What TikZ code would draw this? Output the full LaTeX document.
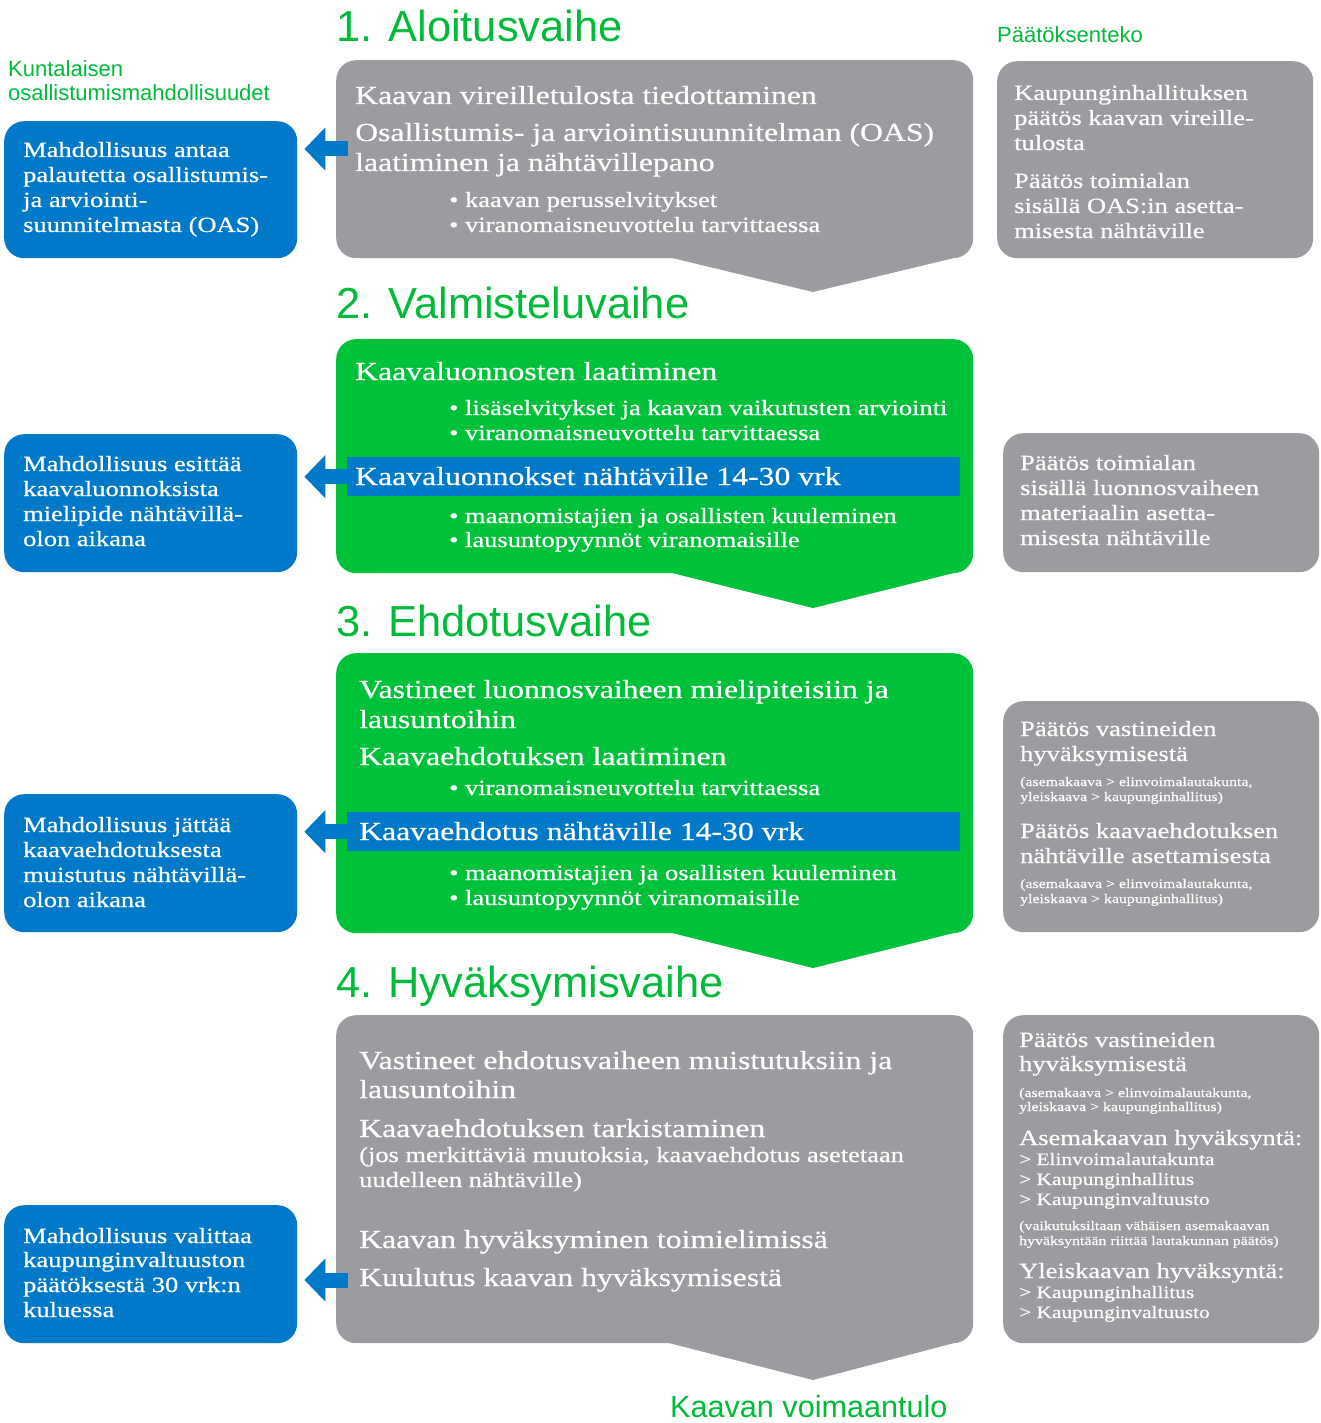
\documentclass[tikz,border=0pt]{standalone}
\usepackage{fontspec}
\setmainfont{Liberation Serif}[FakeStretch=1.22,FakeBold=0.6]
\newfontfamily\headfont{Liberation Sans}
\usetikzlibrary{arrows.meta,calc}
\definecolor{greyb}{RGB}{155,156,160}
\definecolor{greenb}{RGB}{0,193,58}
\definecolor{blueb}{RGB}{0,121,200}
\definecolor{tgreen}{RGB}{0,187,57}
\tikzset{
  lbl/.style={anchor=base west, inner sep=0pt, text=white},
  big/.style={lbl, font=\fontsize{26}{30}\selectfont},
  mid/.style={lbl, font=\fontsize{21.7}{25}\selectfont},
  sm/.style={lbl, font=\fontsize{17.5}{20}\selectfont},
  xs/.style={lbl, font=\fontsize{13}{15}\selectfont},
  title/.style={anchor=base west, inner sep=0pt, text=tgreen, font=\headfont\fontsize{43.4}{50}\selectfont},
  sub/.style={anchor=base west, inner sep=0pt, text=tgreen, font=\headfont\fontsize{22}{26}\selectfont},
  boxbase/.style={rectangle, rounded corners=20pt, inner sep=0pt, draw=none, anchor=north west},
  gbox/.style={boxbase, fill=greyb},
  grbox/.style={boxbase, fill=greenb},
  bbox/.style={boxbase, fill=blueb},
  band/.style={rectangle, inner sep=0pt, draw=none, fill=blueb, anchor=north west, minimum width=613pt, minimum height=39pt},
  barrow/.style={draw=blueb, line width=15pt, -{Triangle[width=42pt,length=21pt]}},
}
\begin{document}
\begin{tikzpicture}[x=1pt,y=-1pt]
\useasboundingbox (0,0) rectangle (1320,1423);

% ---------- column labels ----------
\node[sub] (k1) at (8,77) {Kuntalaisen};
\node[sub] (k2) at (8,101) {osallistumismahdollisuudet};
\node[sub] (pt) at (997,43) {Päätöksenteko};

% ================= 1. Aloitusvaihe =================
\node[title] (T1) at (336,42) {1. Aloitusvaihe};
\node[gbox, minimum width=637pt, minimum height=198pt] (M1) at (336,60) {};
\fill[greyb] (668,257) -- (958,257) -- (813,292) -- cycle;
\node[big] (m1a) at (355,104) {Kaavan vireilletulosta tiedottaminen};
\node[big] (m1b) at (355,141) {Osallistumis- ja arviointisuunnitelman (OAS)};
\node[big] (m1c) at (355,171) {laatiminen ja nähtävillepano};
\node[mid] (m1d) at (449,207) {• kaavan perusselvitykset};
\node[mid] (m1e) at (449,232) {• viranomaisneuvottelu tarvittaessa};

\node[bbox, minimum width=293pt, minimum height=137pt] (L1) at (4,121) {};
\node[mid] (l1a) at (23,157) {Mahdollisuus antaa};
\node[mid] (l1b) at (23,182) {palautetta osallistumis-};
\node[mid] (l1c) at (23,207) {ja arviointi-};
\node[mid] (l1d) at (23,232) {suunnitelmasta (OAS)};

\node[gbox, minimum width=316pt, minimum height=197pt] (R1) at (997,61) {};
\node[mid] (r1a) at (1014,100) {Kaupunginhallituksen};
\node[mid] (r1b) at (1014,125) {päätös kaavan vireille-};
\node[mid] (r1c) at (1014,150) {tulosta};
\node[mid] (r1d) at (1014,188) {Päätös toimialan};
\node[mid] (r1e) at (1014,213) {sisällä OAS:in asetta-};
\node[mid] (r1f) at (1014,238) {misesta nähtäville};

\coordinate (a1s) at (348,149);
\coordinate (a1e) at ($(L1.east |- a1s)+(7,0)$);
\draw[barrow] (a1s) -- (a1e);

% ================= 2. Valmisteluvaihe =================
\node[title] (T2) at (336,318) {2. Valmisteluvaihe};
\node[grbox, minimum width=637pt, minimum height=234pt] (M2) at (336,339) {};
\fill[greenb] (668,572) -- (958,572) -- (813,608) -- cycle;
\node[big] (m2a) at (355,380) {Kaavaluonnosten laatiminen};
\node[mid] (m2b) at (449,415) {• lisäselvitykset ja kaavan vaikutusten arviointi};
\node[mid] (m2c) at (449,440) {• viranomaisneuvottelu tarvittaessa};
\node[band] (B2) at (347,457) {};
\node[big] (m2n) at (355,485) {Kaavaluonnokset nähtäville 14-30 vrk};
\node[mid] (m2d) at (449,523) {• maanomistajien ja osallisten kuuleminen};
\node[mid] (m2e) at (449,547) {• lausuntopyynnöt viranomaisille};

\node[bbox, minimum width=293pt, minimum height=138pt] (L2) at (4,434) {};
\node[mid] (l2a) at (23,471) {Mahdollisuus esittää};
\node[mid] (l2b) at (23,496) {kaavaluonnoksista};
\node[mid] (l2c) at (23,521) {mielipide nähtävillä-};
\node[mid] (l2d) at (23,546) {olon aikana};

\node[gbox, minimum width=316pt, minimum height=139pt] (R2) at (1003,433) {};
\node[mid] (r2a) at (1020,470) {Päätös toimialan};
\node[mid] (r2b) at (1020,495) {sisällä luonnosvaiheen};
\node[mid] (r2c) at (1020,520) {materiaalin asetta-};
\node[mid] (r2d) at (1020,545) {misesta nähtäville};

\coordinate (a2s) at (B2.west);
\coordinate (a2e) at ($(L2.east |- a2s)+(7,0)$);
\draw[barrow] (a2s) -- (a2e);

% ================= 3. Ehdotusvaihe =================
\node[title] (T3) at (336,636) {3. Ehdotusvaihe};
\node[grbox, minimum width=637pt, minimum height=280pt] (M3) at (336,653) {};
\fill[greenb] (668,932) -- (958,932) -- (813,968) -- cycle;
\node[big] (m3a) at (359,698) {Vastineet luonnosvaiheen mielipiteisiin ja};
\node[big] (m3b) at (359,728) {lausuntoihin};
\node[big] (m3c) at (359,765) {Kaavaehdotuksen laatiminen};
\node[mid] (m3d) at (449,795) {• viranomaisneuvottelu tarvittaessa};
\node[band] (B3) at (347,812) {};
\node[big] (m3n) at (359,840) {Kaavaehdotus nähtäville 14-30 vrk};
\node[mid] (m3e) at (449,880) {• maanomistajien ja osallisten kuuleminen};
\node[mid] (m3f) at (449,905) {• lausuntopyynnöt viranomaisille};

\node[bbox, minimum width=293pt, minimum height=138pt] (L3) at (4,794) {};
\node[mid] (l3a) at (23,832) {Mahdollisuus jättää};
\node[mid] (l3b) at (23,857) {kaavaehdotuksesta};
\node[mid] (l3c) at (23,882) {muistutus nähtävillä-};
\node[mid] (l3d) at (23,907) {olon aikana};

\node[gbox, minimum width=316pt, minimum height=231pt] (R3) at (1003,701) {};
\node[mid] (r3a) at (1020,736) {Päätös vastineiden};
\node[mid] (r3b) at (1020,761) {hyväksymisestä};
\node[xs] (r3c) at (1020,786) {(asemakaava > elinvoimalautakunta,};
\node[xs] (r3d) at (1020,801) {yleiskaava > kaupunginhallitus)};
\node[mid] (r3e) at (1020,838) {Päätös kaavaehdotuksen};
\node[mid] (r3f) at (1020,863) {nähtäville asettamisesta};
\node[xs] (r3g) at (1020,888) {(asemakaava > elinvoimalautakunta,};
\node[xs] (r3h) at (1020,903) {yleiskaava > kaupunginhallitus)};

\coordinate (a3s) at (B3.west);
\coordinate (a3e) at ($(L3.east |- a3s)+(7,0)$);
\draw[barrow] (a3s) -- (a3e);

% ================= 4. Hyväksymisvaihe =================
\node[title] (T4) at (336,997) {4. Hyväksymisvaihe};
\node[gbox, minimum width=637pt, minimum height=328pt] (M4) at (336,1015) {};
\fill[greyb] (665,1342) -- (958,1342) -- (813,1380) -- cycle;
\node[big] (m4a) at (359,1069) {Vastineet ehdotusvaiheen muistutuksiin ja};
\node[big] (m4b) at (359,1098) {lausuntoihin};
\node[big] (m4c) at (359,1137) {Kaavaehdotuksen tarkistaminen};
\node[mid] (m4d) at (359,1162) {(jos merkittäviä muutoksia, kaavaehdotus asetetaan};
\node[mid] (m4e) at (359,1187) {uudelleen nähtäville)};
\node[big] (m4f) at (359,1248) {Kaavan hyväksyminen toimielimissä};
\node[big] (m4g) at (359,1286) {Kuulutus kaavan hyväksymisestä};

\node[bbox, minimum width=293pt, minimum height=138pt] (L4) at (4,1205) {};
\node[mid] (l4a) at (23,1243) {Mahdollisuus valittaa};
\node[mid] (l4b) at (23,1267) {kaupunginvaltuuston};
\node[mid] (l4c) at (23,1292) {päätöksestä 30 vrk:n};
\node[mid] (l4d) at (23,1317) {kuluessa};

\node[gbox, minimum width=316pt, minimum height=328pt] (R4) at (1003,1015) {};
\node[mid] (r4a) at (1019,1047) {Päätös vastineiden};
\node[mid] (r4b) at (1019,1071) {hyväksymisestä};
\node[xs] (r4c) at (1019,1097) {(asemakaava > elinvoimalautakunta,};
\node[xs] (r4d) at (1019,1111) {yleiskaava > kaupunginhallitus)};
\node[mid] (r4e) at (1019,1145) {Asemakaavan hyväksyntä:};
\node[sm] (r4f) at (1019,1165) {> Elinvoimalautakunta};
\node[sm] (r4g) at (1019,1185) {> Kaupunginhallitus};
\node[sm] (r4h) at (1019,1205) {> Kaupunginvaltuusto};
\node[xs] (r4i) at (1019,1230) {(vaikutuksiltaan vähäisen asemakaavan};
\node[xs] (r4j) at (1019,1245) {hyväksyntään riittää lautakunnan päätös)};
\node[mid] (r4k) at (1019,1278) {Yleiskaavan hyväksyntä:};
\node[sm] (r4l) at (1019,1298) {> Kaupunginhallitus};
\node[sm] (r4m) at (1019,1318) {> Kaupunginvaltuusto};

\coordinate (a4s) at (348,1280);
\coordinate (a4e) at ($(L4.east |- a4s)+(7,0)$);
\draw[barrow] (a4s) -- (a4e);

\node[anchor=base west, inner sep=0pt, text=tgreen, font=\headfont\fontsize{30.6}{36}\selectfont] (KV) at (670,1417) {Kaavan voimaantulo};
\end{tikzpicture}
\end{document}
